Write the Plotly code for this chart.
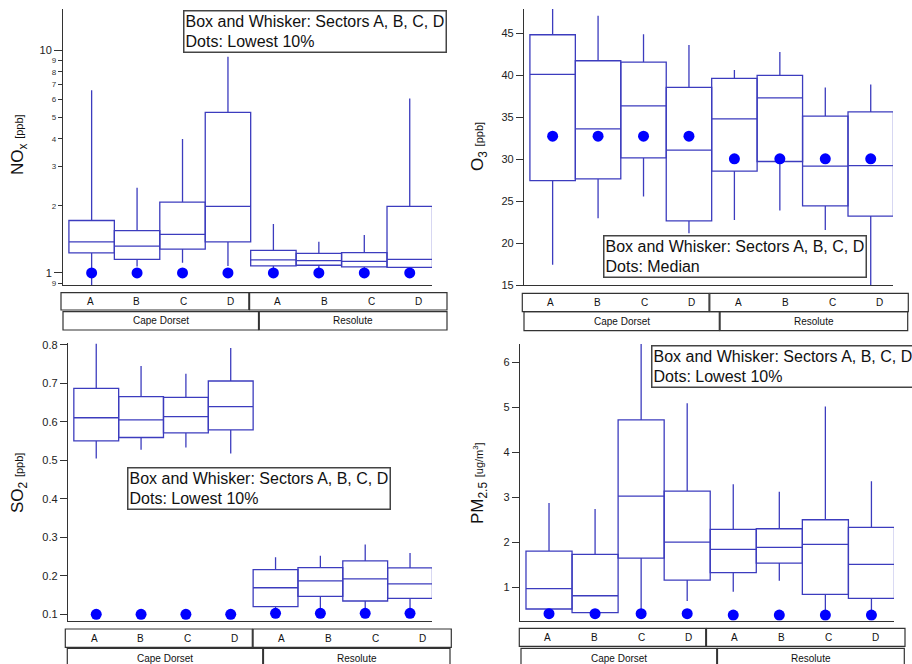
import plotly.graph_objects as go

W, H = 912, 664
FONT = "Liberation Sans, Arial, sans-serif"
BOXC = "#3C3CBE"
DOTC = "#0000FF"
AXC = "#333333"

sectors = ["A", "B", "C", "D"]
sites = ["Cape Dorset", "Resolute"]

# NOx [ppb]
nox_q1 = [1.23, 1.15, 1.28, 1.38, 1.075, 1.083, 1.064, 1.06]
nox_med = [1.38, 1.32, 1.49, 1.99, 1.144, 1.135, 1.128, 1.152]
nox_q3 = [1.72, 1.55, 2.08, 5.26, 1.264, 1.225, 1.233, 1.99]
nox_lo = [0.85, 1.07, 1.11, 1.075, 1.03, 1.04, 1.03, 1.02]
nox_hi = [6.6, 2.41, 3.99, 9.33, 1.66, 1.38, 1.48, 6.07]
nox_dot = [1.0, 1.0, 1.0, 1.0, 1.0, 1.0, 1.0, 1.0]

# O3 [ppb]
o3_q1 = [27.45, 27.65, 30.16, 22.64, 28.57, 29.72, 24.43, 23.2]
o3_med = [40.1, 33.6, 36.36, 31.07, 34.81, 37.3, 29.16, 29.24]
o3_q3 = [44.83, 41.73, 41.57, 38.55, 39.62, 39.98, 35.13, 35.64]
o3_lo = [17.4, 22.96, 25.54, 21.17, 22.76, 23.87, 21.56, 15.0]
o3_hi = [48.5, 47.1, 44.9, 43.6, 40.62, 42.77, 38.55, 38.9]
o3_dot = [32.74, 32.74, 32.74, 32.74, 30.04, 30.04, 30.04, 30.04]

# SO2 [ppb]
so2_q1 = [0.5505, 0.559, 0.571, 0.579, 0.1198, 0.1468, 0.1346, 0.1416]
so2_med = [0.6103, 0.605, 0.613, 0.639, 0.169, 0.1866, 0.1918, 0.1788]
so2_q3 = [0.6864, 0.665, 0.663, 0.7057, 0.216, 0.221, 0.2386, 0.2203]
so2_lo = [0.5045, 0.527, 0.533, 0.5175, 0.093, 0.105, 0.105, 0.105]
so2_hi = [0.8026, 0.745, 0.7247, 0.7914, 0.248, 0.2523, 0.281, 0.2593]
so2_dot = [0.1, 0.1, 0.1, 0.1, 0.1026, 0.1026, 0.1026, 0.1026]

# PM2.5 [ug/m3]
pm_q1 = [0.518, 0.436, 1.651, 1.162, 1.326, 1.54, 0.844, 0.756]
pm_med = [0.969, 0.813, 3.029, 2.007, 1.844, 1.889, 1.955, 1.511]
pm_q3 = [1.807, 1.733, 4.724, 3.14, 2.289, 2.302, 2.502, 2.333]
pm_lo = [0.3, 0.40, 0.40, 0.696, 0.902, 1.147, 0.40, 0.40]
pm_hi = [2.873, 2.74, 6.6, 5.09, 3.289, 3.124, 5.02, 3.356]
pm_dot = [0.413, 0.413, 0.413, 0.413, 0.384, 0.384, 0.384, 0.384]

# tick labels
nox_minor_vals = [0.9, 2, 3, 4, 5, 6, 7, 8, 9]
nox_minor_text = ["9", "2", "3", "4", "5", "6", "7", "8", "9"]
nox_major_vals = [1, 10]
nox_major_text = ["1", "10"]
o3_ticks = [15, 20, 25, 30, 35, 40, 45]
so2_ticks = [0.1, 0.2, 0.3, 0.4, 0.5, 0.6, 0.7, 0.8]
pm_ticks = [1, 2, 3, 4, 5, 6]

legend_top = "Box and Whisker: Sectors A, B, C, D"
legend_low = "Dots: Lowest 10%"
legend_med = "Dots: Median"


def px(x):
    return x / W


def py(y):
    return 1 - y / H


ncat = len(sectors) * len(sites)
xpos = list(range(ncat))
XR = [-0.63, 7.49]

panels = [
    dict(ax="", q1=nox_q1, med=nox_med, q3=nox_q3, lo=nox_lo, hi=nox_hi, dot=nox_dot,
         dx=(63, 432), dy=(9, 285), yr=[-0.054, 1.1847], log=True,
         title="NO<sub>x</sub> <span style='font-size:11px'>[ppb]</span>", tpos=(19, 145),
         legend=(183, 10, legend_low),
         r1y=(292.7, 310), r1x=(61, 248.8, 447), r2y=(311.7, 330), r2x=(63, 258.5, 447),
         lab0=90, labstep=46.86),
    dict(ax="2", q1=o3_q1, med=o3_med, q3=o3_q3, lo=o3_lo, hi=o3_hi, dot=o3_dot,
         dx=(524, 893), dy=(9, 285), yr=[15, 47.9], log=False, ticks=o3_ticks,
         title="O<sub>3</sub> <span style='font-size:11px'>[ppb]</span>", tpos=(479, 147),
         legend=(603.3, 235.3, legend_med),
         r1y=(293.3, 311.7), r1x=(522.3, 709, 908.3), r2y=(311.7, 330.7), r2x=(524, 719.3, 907.7),
         lab0=550.7, labstep=46.94),
    dict(ax="3", q1=so2_q1, med=so2_med, q3=so2_q3, lo=so2_lo, hi=so2_hi, dot=so2_dot,
         dx=(68, 432), dy=(343, 620.7), yr=[0.0834, 0.8044], log=False, ticks=so2_ticks,
         title="SO<sub>2</sub> <span style='font-size:11px'>[ppb]</span>", tpos=(19, 483),
         legend=(127.3, 466.7, legend_low),
         r1y=(629, 647.3), r1x=(65.3, 252.3, 451.3), r2y=(648.3, 672), r2x=(67.3, 262.7, 450),
         lab0=94, labstep=46.9),
    dict(ax="4", q1=pm_q1, med=pm_med, q3=pm_q3, lo=pm_lo, hi=pm_hi, dot=pm_dot,
         dx=(520, 894), dy=(344, 620.7), yr=[0.258, 6.41], log=False, ticks=pm_ticks,
         title="PM<sub>2.5</sub> <span style='font-size:11px'>[ug/m<sup>3</sup>]</span>", tpos=(479, 483),
         legend=(650.7, 345, legend_low),
         r1y=(628.3, 646.3), r1x=(519.3, 705.7, 905), r2y=(648.3, 672), r2x=(521, 716.7, 904.3),
         lab0=547.7, labstep=46.8),
]

fig = go.Figure()
layout = dict(template="none", width=W, height=H, margin=dict(l=0, r=0, t=0, b=0, pad=0),
              autosize=False, paper_bgcolor="white", plot_bgcolor="white", showlegend=False,
              font=dict(family=FONT, color="#222"))
annotations = []
shapes = []

for p in panels:
    a = p["ax"]
    xa = "x" + a
    ya = "y" + a
    fig.add_trace(go.Box(
        x=xpos, q1=p["q1"], median=p["med"], q3=p["q3"],
        lowerfence=p["lo"], upperfence=p["hi"], width=1.0, whiskerwidth=0,
        boxpoints=False, line=dict(color=BOXC, width=1.3), fillcolor="rgba(0,0,0,0)",
        xaxis=xa, yaxis=ya, hoverinfo="skip"))
    dot_y = "y5" if p["log"] else ya
    fig.add_trace(go.Scatter(
        x=xpos, y=p["dot"], mode="markers",
        marker=dict(color=DOTC, size=11, line=dict(width=0)),
        xaxis=xa, yaxis=dot_y, hoverinfo="skip"))

    layout["xaxis" + a] = dict(domain=[px(p["dx"][0]), px(p["dx"][1])], range=XR,
                               anchor=ya, showline=True, linecolor=AXC, linewidth=1.3,
                               ticks="", showticklabels=False, showgrid=False, zeroline=False,
                               automargin=False, fixedrange=True)
    yax = dict(domain=[py(p["dy"][1]), py(p["dy"][0])], range=p["yr"], anchor=xa,
               showline=True, linecolor=AXC, linewidth=1.3, showgrid=False, zeroline=False,
               ticks="outside", tickcolor=AXC, tickwidth=1, automargin=False, fixedrange=True)
    if p["log"]:
        yax.update(type="log", tickmode="array", tickvals=nox_minor_vals,
                   ticktext=nox_minor_text, ticklen=4, tickfont=dict(size=8, color="#333"))
        layout["yaxis5"] = dict(domain=yax["domain"], range=p["yr"], type="log",
                                overlaying="y", anchor=xa, side="left", showline=False,
                                showgrid=False, zeroline=False, ticks="outside",
                                tickcolor=AXC, tickwidth=1, ticklen=8, tickmode="array",
                                tickvals=nox_major_vals, ticktext=nox_major_text,
                                tickfont=dict(size=11, color="#222"), automargin=False,
                                fixedrange=True)
    else:
        yax.update(tickmode="array", tickvals=p["ticks"], ticktext=[str(t) for t in p["ticks"]],
                   ticklen=7, tickfont=dict(size=11, color="#222"))
    layout["yaxis" + a] = yax

    # axis title
    annotations.append(dict(text=p["title"], xref="paper", yref="paper",
                            x=px(p["tpos"][0]), y=py(p["tpos"][1]), textangle=-90,
                            showarrow=False, xanchor="center", yanchor="middle",
                            font=dict(size=17, color="#111")))
    # legend box
    lx, ly, ltxt = p["legend"]
    annotations.append(dict(text=legend_top + "<br>" + ltxt, xref="paper", yref="paper",
                            x=px(lx), y=py(ly), xanchor="left", yanchor="top", align="left",
                            showarrow=False, bordercolor="#444", borderwidth=1.5, borderpad=1,
                            bgcolor="white", font=dict(size=16, color="#111")))
    # category label rows
    l1, m1, r1 = p["r1x"]
    for x0, x1 in [(l1, m1), (m1 + 0.8, r1)]:
        shapes.append(dict(type="rect", xref="paper", yref="paper", x0=px(x0), x1=px(x1),
                           y0=py(p["r1y"][1]), y1=py(p["r1y"][0]),
                           line=dict(color=AXC, width=1.2)))
    l2, m2, r2 = p["r2x"]
    for k, (x0, x1) in enumerate([(l2, m2), (m2 + 0.8, r2)]):
        shapes.append(dict(type="rect", xref="paper", yref="paper", x0=px(x0), x1=px(x1),
                           y0=py(p["r2y"][1]), y1=py(p["r2y"][0]),
                           line=dict(color=AXC, width=1.2)))
        yc = (p["r2y"][0] + min(p["r2y"][1], 668)) / 2
        annotations.append(dict(text=sites[k], xref="paper", yref="paper",
                                x=px((x0 + x1) / 2), y=py(yc), showarrow=False,
                                xanchor="center", yanchor="middle",
                                font=dict(size=10, color="#111")))
    i = 0
    for s in sites:
        for sec in sectors:
            annotations.append(dict(text=sec, xref="paper", yref="paper",
                                    x=px(p["lab0"] + i * p["labstep"]),
                                    y=py((p["r1y"][0] + p["r1y"][1]) / 2), showarrow=False,
                                    xanchor="center", yanchor="middle",
                                    font=dict(size=10, color="#111")))
            i += 1

layout["annotations"] = annotations
layout["shapes"] = shapes
fig.update_layout(**layout)
fig.write_html("out.html", config={"displayModeBar": False},
               post_script="document.body.style.margin='0';")
